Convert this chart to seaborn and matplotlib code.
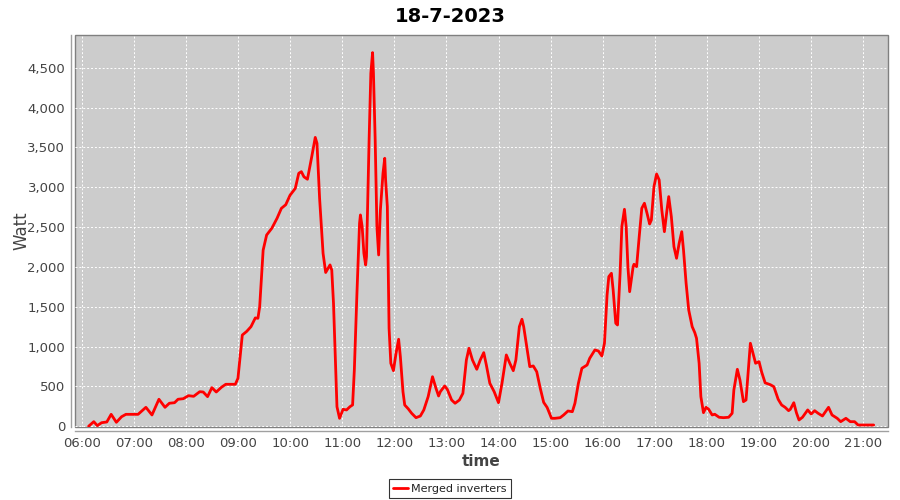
import pandas as pd
import seaborn as sns
import matplotlib.pyplot as plt
import matplotlib.dates as mdates
from matplotlib.ticker import FuncFormatter, MultipleLocator

# power readings for the day
times = [
    '06:08', '06:14', '06:18', '06:23', '06:29', '06:34', '06:40', '06:46', '06:51', '07:05',
    '07:14', '07:21', '07:29', '07:36', '07:41', '07:47', '07:51', '07:57', '08:03', '08:09',
    '08:16', '08:20', '08:25', '08:30', '08:35', '08:41', '08:46', '08:57', '09:00', '09:05',
    '09:10', '09:15', '09:20', '09:23', '09:25', '09:29', '09:33', '09:39', '09:45', '09:50',
    '09:55', '10:00', '10:06', '10:10', '10:13', '10:16', '10:20', '10:25', '10:29', '10:31',
    '10:34', '10:38', '10:41', '10:46', '10:48', '10:50', '10:54', '10:57', '11:01', '11:05',
    '11:09', '11:12', '11:14', '11:17', '11:20', '11:21', '11:23', '11:25', '11:27', '11:28',
    '11:29', '11:31', '11:33', '11:35', '11:36', '11:38', '11:40', '11:42', '11:44', '11:47',
    '11:49', '11:50', '11:52', '11:54', '11:56', '11:59', '12:02', '12:05', '12:07', '12:10',
    '12:12', '12:16', '12:20', '12:25', '12:30', '12:34', '12:39', '12:44', '12:48', '12:51',
    '12:53', '12:58', '13:01', '13:06', '13:10', '13:15', '13:19', '13:23', '13:26', '13:30',
    '13:35', '13:39', '13:43', '13:46', '13:50', '13:55', '14:00', '14:04', '14:09', '14:13',
    '14:17', '14:20', '14:24', '14:27', '14:29', '14:33', '14:36', '14:40', '14:44', '14:48',
    '14:52', '14:56', '15:01', '15:05', '15:11', '15:15', '15:20', '15:25', '15:28', '15:32',
    '15:36', '15:42', '15:45', '15:51', '15:55', '15:59', '16:02', '16:05', '16:07', '16:10',
    '16:12', '16:15', '16:17', '16:20', '16:22', '16:25', '16:27', '16:29', '16:31', '16:35',
    '16:36', '16:39', '16:42', '16:45', '16:48', '16:51', '16:54', '16:56', '16:59', '17:02',
    '17:05', '17:08', '17:11', '17:14', '17:16', '17:19', '17:22', '17:25', '17:28', '17:31',
    '17:33', '17:36', '17:39', '17:43', '17:46', '17:48', '17:51', '17:53', '17:56', '17:59',
    '18:02', '18:06', '18:09', '18:14', '18:19', '18:25', '18:29', '18:31', '18:35', '18:38',
    '18:42', '18:45', '18:48', '18:50', '18:53', '18:56', '19:00', '19:03', '19:07', '19:13',
    '19:17', '19:22', '19:26', '19:30', '19:34', '19:36', '19:40', '19:43', '19:46', '19:50',
    '19:56', '20:00', '20:04', '20:08', '20:13', '20:20', '20:24', '20:30', '20:34', '20:40',
    '20:45', '20:50', '20:54', '21:00', '21:12',
]
watt = [
    0, 58, 8, 45, 54, 150, 50, 120, 150, 150,
    238, 142, 339, 238, 289, 296, 339, 346, 384, 376,
    434, 430, 372, 485, 430, 490, 527, 527, 602, 1145,
    1190, 1250, 1360, 1355, 1500, 2210, 2400, 2485, 2610, 2735,
    2780, 2900, 2985, 3175, 3195, 3130, 3100, 3385, 3625, 3550,
    2860, 2170, 1930, 2025, 1960, 1545, 245, 100, 213, 205,
    246, 268, 706, 1669, 2548, 2652, 2505, 2171, 2024, 2129,
    2630, 3593, 4430, 4689, 4430, 3593, 2505, 2150, 2715, 3175,
    3363, 3091, 2756, 1230, 791, 698, 916, 1092, 873, 434,
    267, 220, 163, 108, 129, 205, 372, 622, 477, 380,
    434, 506, 464, 330, 289, 330, 414, 832, 979, 832,
    715, 832, 924, 769, 540, 434, 296, 540, 895, 791,
    698, 832, 1250, 1343, 1250, 958, 748, 757, 685, 480,
    300, 236, 100, 100, 108, 142, 192, 183, 289, 540,
    728, 769, 853, 958, 945, 882, 1042, 1648, 1878, 1920,
    1711, 1293, 1271, 1920, 2505, 2723, 2505, 2003, 1689, 2003,
    2033, 2003, 2379, 2736, 2799, 2673, 2539, 2589, 3007, 3166,
    3091, 2715, 2442, 2715, 2882, 2630, 2254, 2108, 2297, 2442,
    2213, 1795, 1460, 1250, 1175, 1104, 791, 372, 171, 238,
    213, 142, 151, 113, 108, 113, 163, 456, 715, 581,
    309, 330, 748, 1042, 916, 791, 811, 680, 545, 522,
    497, 339, 267, 238, 196, 213, 296, 171, 79, 113,
    205, 154, 196, 163, 129, 238, 142, 100, 58, 100,
    58, 58, 16, 16, 16,
]

day = '2023-07-18 '
df = pd.DataFrame({'time': pd.to_datetime([day + t for t in times]), 'Watt': watt})

sns.set_style('white')
plt.rcParams['font.family'] = ['DejaVu Sans']

fig = plt.figure(figsize=(9, 5), dpi=100)
ax = fig.add_axes([0.0833, 0.146, 0.9034, 0.784])
ax.set_facecolor('#cccccc')

sns.lineplot(data=df, x='time', y='Watt', color='#ff0000', linewidth=2.0,
             label='Merged inverters', ax=ax)

ax.set_xlim(pd.Timestamp(day + '05:52:20'), pd.Timestamp(day + '21:28:30'))
ax.set_ylim(-9, 4910)
ax.xaxis.set_major_locator(mdates.HourLocator())
ax.xaxis.set_major_formatter(mdates.DateFormatter('%H:%M'))
ax.yaxis.set_major_locator(MultipleLocator(500))
ax.yaxis.set_major_formatter(FuncFormatter(lambda v, p: f'{v:,.0f}'))

ax.grid(True, color='white', linestyle=(0, (2, 2)), linewidth=0.7)
ax.set_axisbelow(True)

# plot area frame plus separate axis lines a few pixels outside (like JFreeChart)
ax.patch.set_edgecolor('#808080')
ax.patch.set_linewidth(1.0)
for side in ['top', 'right']:
    ax.spines[side].set_visible(False)
for side in ['left', 'bottom']:
    ax.spines[side].set_position(('outward', 3))
    ax.spines[side].set_color('#a0a0a0')
    ax.spines[side].set_linewidth(1.0)

ax.tick_params(axis='both', labelsize=9.5, labelcolor='#444444', color='#a0a0a0',
               length=2, width=0.8, direction='out', pad=2)

fig.suptitle('18-7-2023', x=0.5, y=0.985, fontsize=14, fontweight='bold', color='black')
ax.set_xlabel('time', fontsize=11, fontweight='bold', color='#444444', labelpad=3)
ax.set_ylabel('Watt', fontsize=12, color='#444444', labelpad=-2)

ax.get_legend().remove()
leg = fig.legend(loc='lower center', bbox_to_anchor=(0.5, 0.004), frameon=True,
                 fancybox=False, fontsize=8, handlelength=1.3, handletextpad=0.3,
                 borderpad=0.4, borderaxespad=0)
leg.get_frame().set_edgecolor('black')
leg.get_frame().set_linewidth(0.8)
for t in leg.get_texts():
    t.set_color('#222222')

fig.savefig('out.png', dpi=100)
